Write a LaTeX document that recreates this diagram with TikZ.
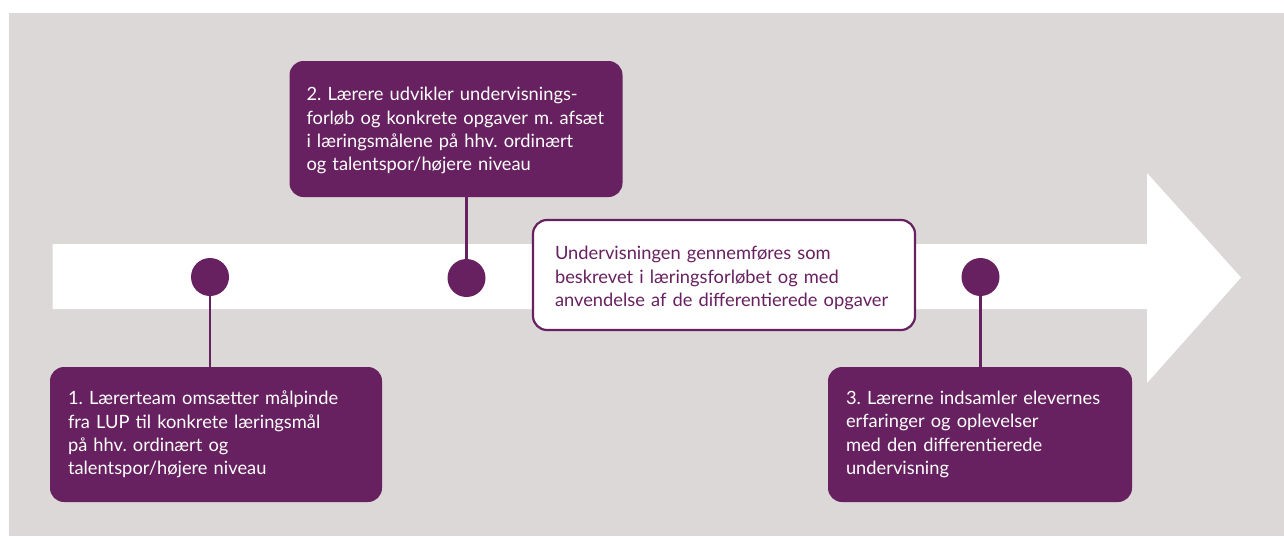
\documentclass[tikz,border=0pt]{standalone}
\usepackage{fontspec}
\setmainfont{Lato}
\frenchspacing
\definecolor{bggray}{RGB}{220,216,215}
\definecolor{plum}{RGB}{104,33,96}
\begin{document}
\begin{tikzpicture}[x=1pt,y=-1pt,
  dot/.style={circle,fill=plum,draw=none,minimum size=38pt,inner sep=0pt},
  conn/.style={draw=plum,line width=2.6pt},
  pbox/.style={fill=plum,draw=none,rounded corners=14pt,text=white,align=left,
    inner xsep=18pt,inner ysep=0pt,
    font=\fontsize{18.3pt}{23.4pt}\selectfont\frenchspacing},
  wbox/.style={fill=white,draw=plum,line width=2.2pt,rounded corners=14pt,text=plum,align=left,
    inner xsep=22pt,inner ysep=0pt,
    font=\fontsize{18.3pt}{23.4pt}\selectfont\frenchspacing}]
\useasboundingbox (0,0) rectangle (1284,536);
\fill[bggray] (9,13) rectangle (1284,536);
% arrow
\fill[white] (52.5,244) -- (1147,244) -- (1147,173) -- (1241,277.5) -- (1147,383) -- (1147,309) -- (52.5,309) -- cycle;
% dots
\node[dot] (c1) at (210,277) {};
\node[dot] (c2) at (466.5,278) {};
\node[dot] (c3) at (980.5,277) {};
% boxes
\node[pbox,minimum width=332pt,minimum height=135pt,text width=296pt] (b1) at (216,434.5)
  {1. Lærerteam omsætter målpinde\\fra LUP til konkrete læringsmål\\på hhv. ordinært og\\talentspor/højere niveau};
\node[pbox,inner xsep=17pt,minimum width=333pt,minimum height=136pt,text width=299pt] (b2) at (456,129)
  {\rule{0pt}{17pt}2. Lærere udvikler undervisnings-\\forløb og konkrete opgaver m. afsæt\\i læringsmålene på hhv. ordinært\\og talentspor/højere niveau};
\node[pbox,minimum width=304pt,minimum height=135pt,text width=268pt] (b3) at (980,434.5)
  {3. Lærerne indsamler elevernes\\erfaringer og oplevelser\\med den differentierede\\undervisning};
\node[wbox,minimum width=382pt,minimum height=110pt,text width=338pt] (m) at (724,275)
  {\rule{0pt}{19.5pt}Undervisningen gennemføres som\\beskrevet i læringsforløbet og med\\anvendelse af de differentierede opgaver};
% connectors
\draw[conn] (c1.south) -- (c1.south |- b1.north);
\draw[conn] (c2.north) -- (c2.north |- b2.south);
\draw[conn] (c3.south) -- (c3.south |- b3.north);
\end{tikzpicture}
\end{document}
